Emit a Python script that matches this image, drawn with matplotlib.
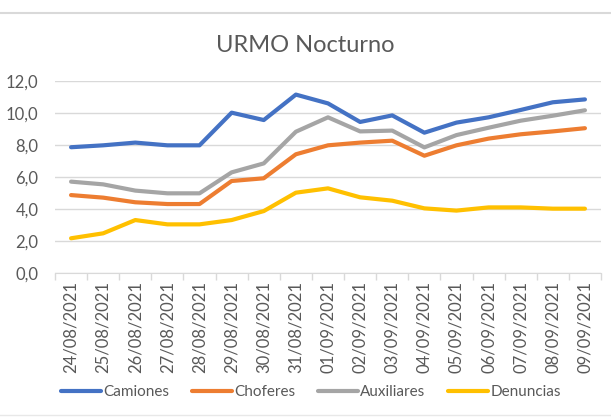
import numpy as np
import matplotlib.pyplot as plt
from matplotlib.lines import Line2D

# Data
fechas = ["24/08/2021", "25/08/2021", "26/08/2021", "27/08/2021", "28/08/2021",
          "29/08/2021", "30/08/2021", "31/08/2021", "01/09/2021", "02/09/2021",
          "03/09/2021", "04/09/2021", "05/09/2021", "06/09/2021", "07/09/2021",
          "08/09/2021", "09/09/2021"]
camiones = [7.86, 7.98, 8.15, 7.98, 7.98, 10.02, 9.56, 11.15, 10.6, 9.44,
            9.85, 8.77, 9.4, 9.73, 10.19, 10.67, 10.85]
choferes = [4.87, 4.71, 4.42, 4.31, 4.31, 5.75, 5.92, 7.42, 7.98, 8.15,
            8.27, 7.33, 7.98, 8.4, 8.67, 8.85, 9.05]
auxiliares = [5.71, 5.54, 5.15, 4.98, 4.98, 6.29, 6.85, 8.83, 9.73, 8.85,
              8.9, 7.85, 8.62, 9.08, 9.52, 9.83, 10.17]
denuncias = [2.17, 2.48, 3.31, 3.04, 3.04, 3.31, 3.87, 5.02, 5.29, 4.73,
             4.52, 4.04, 3.9, 4.1, 4.1, 4.02, 4.02]

series = [("Camiones", camiones, "#4472C4"),
          ("Choferes", choferes, "#ED7D31"),
          ("Auxiliares", auxiliares, "#A5A5A5"),
          ("Denuncias", denuncias, "#FFC000")]

plt.rcParams['font.family'] = ['Lato', 'DejaVu Sans']
txt = "#595959"

fig = plt.figure(figsize=(6.11, 4.19), dpi=100)
ax = fig.add_axes([55/611, 1-273/419, 546/611, 192/419])

x = np.arange(len(fechas))
for name, vals, col in series:
    ax.plot(x, vals, color=col, lw=3, label=name, solid_capstyle='round',
            solid_joinstyle='round')

ax.set_xlim(-0.5, len(fechas)-0.5)
ax.set_ylim(0, 12)
ax.set_yticks(np.arange(0, 13, 2))
ax.set_yticklabels([f"{v:.1f}".replace(".", ",") for v in np.arange(0, 13, 2)],
                   fontsize=12, color=txt)
ax.set_xticks(x)
ax.set_xticklabels(fechas, rotation=90, fontsize=12, color=txt)
ax.set_xticks(np.arange(-0.5, len(fechas), 1), minor=True)
ax.tick_params(axis='x', which='major', length=0, pad=6)
ax.tick_params(axis='x', which='minor', length=5, color="#D9D9D9", width=1)
ax.tick_params(axis='y', length=0, pad=12)
ax.grid(axis='y', color="#D9D9D9", lw=1)
ax.set_axisbelow(True)
for s in ['top', 'right', 'left']:
    ax.spines[s].set_visible(False)
ax.spines['bottom'].set_color("#D9D9D9")

fig.text(0.5, 1-45/419, "URMO Nocturno", ha='center', va='center',
         fontsize=17, color=txt)

ax.legend(loc='center', bbox_to_anchor=(0.5-17/546, (273-392)/192),
          ncol=4, frameon=False, fontsize=11, labelcolor=txt,
          handlelength=2.6, handletextpad=0.15, columnspacing=1.5)

# chart frame lines
fig.add_artist(Line2D([0, 1], [1-13/419, 1-13/419], color="#D9D9D9", lw=1.5))
fig.add_artist(Line2D([0, 1], [1-415/419, 1-415/419], color="#E8E8E8", lw=1))

fig.savefig("out.png", dpi=100)
